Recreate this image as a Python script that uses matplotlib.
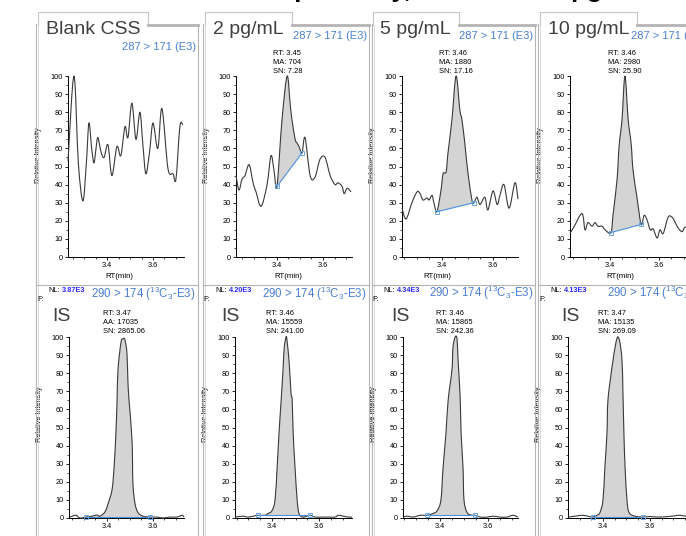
import numpy as np
import matplotlib
matplotlib.use('Agg')
import matplotlib.pyplot as plt
from matplotlib.lines import Line2D
from matplotlib.path import Path
from matplotlib.patches import PathPatch
from matplotlib.ticker import MultipleLocator, FixedLocator

plt.rcParams['font.family'] = ['Liberation Sans', 'DejaVu Sans']
plt.rcParams['mathtext.fontset'] = 'custom'
plt.rcParams['mathtext.rm'] = 'Liberation Sans'
plt.rcParams['mathtext.default'] = 'regular'

W, H = 686, 536

# ---- analyte channel 287 > 171 (E3), RT in min / relative intensity ----
blank_rt = [3.230, 3.256, 3.275, 3.295, 3.310, 3.321, 3.333, 3.343, 3.352, 3.360, 3.374, 3.387,
            3.404, 3.421, 3.443, 3.460, 3.478, 3.491, 3.508, 3.526, 3.543, 3.556, 3.569, 3.585,
            3.600, 3.621, 3.639, 3.665, 3.687, 3.700, 3.717, 3.730]
blank_int = [53, 100, 52, 31, 52, 74, 60, 52, 60, 66, 58, 55,
             62, 45, 61, 56, 72, 66, 85, 65, 80, 62, 46, 58,
             74, 60, 82, 49, 46, 43, 72, 73]

p2_rt = [3.222, 3.235, 3.248, 3.261, 3.279, 3.296, 3.309, 3.331, 3.357, 3.374, 3.387, 3.400,
         3.422, 3.444, 3.457, 3.465, 3.479, 3.487, 3.496, 3.509, 3.522, 3.544, 3.565, 3.587,
         3.609, 3.631, 3.652, 3.665, 3.683, 3.692, 3.705, 3.722]
p2_int = [45, 37, 43, 45, 51, 41, 36, 28, 40, 56, 48, 39,
          76, 100, 85, 76, 65, 63, 61, 57.5, 66, 45, 44, 54,
          55, 45, 40, 41, 39, 35, 38, 36]

p5_rt = [3.243, 3.259, 3.282, 3.302, 3.314, 3.325, 3.341, 3.349, 3.361, 3.368, 3.380, 3.396,
         3.404, 3.416, 3.423, 3.439, 3.455, 3.470, 3.478, 3.490, 3.502, 3.518, 3.525, 3.537,
         3.549, 3.568, 3.580, 3.600, 3.616, 3.627, 3.643, 3.663, 3.686, 3.698]
p5_int = [27, 21, 30, 36, 35, 31.5, 32.6, 31.5, 34, 30, 25, 37,
          46, 47, 57, 76, 100, 81, 76, 62, 46, 31, 30, 33,
          29, 33, 26, 36.5, 29, 34, 40, 27, 41, 32]

p10_rt = [3.237, 3.253, 3.286, 3.298, 3.310, 3.327, 3.339, 3.351, 3.368, 3.380, 3.404, 3.413,
          3.429, 3.437, 3.449, 3.461, 3.474, 3.486, 3.494, 3.510, 3.527, 3.539, 3.551, 3.564,
          3.576, 3.592, 3.604, 3.617, 3.637, 3.653, 3.666, 3.678, 3.694, 3.706, 3.727]
p10_int = [13, 16.6, 24, 15, 19, 17, 19, 17, 17, 15, 13.5, 24,
           43, 61, 76, 100, 76, 63, 48, 33, 18, 23, 20.5, 15,
           15.5, 10.5, 15, 13, 22, 22, 19, 16, 14, 16.5, 15]

# ---- internal standard 290 > 174 (13C3-E3) ----
is1_rt = [3.239, 3.265, 3.283, 3.309, 3.335, 3.357, 3.370, 3.392, 3.405, 3.422, 3.431, 3.439,
          3.444, 3.448, 3.461, 3.470, 3.478, 3.487, 3.491, 3.496, 3.509, 3.513, 3.522, 3.535,
          3.557, 3.587, 3.618, 3.644, 3.674, 3.705, 3.726, 3.735]
is1_int = [0.5, 1.5, 0, 0.5, 1, 1.6, 1, 3.5, 8, 15.5, 28, 47,
           65, 82, 97, 99, 98.5, 91, 76, 65, 43, 19, 8, 3,
           1, 0.5, 0.5, 0, 0.5, 0.5, 1.5, 0.5]

is2_rt = [3.243, 3.277, 3.298, 3.320, 3.341, 3.371, 3.383, 3.400, 3.413, 3.422, 3.430, 3.439,
          3.447, 3.452, 3.460, 3.464, 3.473, 3.481, 3.486, 3.490, 3.498, 3.507, 3.515, 3.532,
          3.562, 3.583, 3.613, 3.639, 3.669, 3.681, 3.703, 3.724, 3.740]
is2_int = [0.5, 1, 0.5, 1, 1.5, 1.5, 2.5, 4, 10, 28, 47, 65,
           82, 94, 100, 98, 86, 69, 65, 47, 28, 10, 2.5, 0.5,
           1.5, 0.5, 0.5, 0.5, 0.5, 1.5, 1, 0.5, 0.5]

is3_rt = [3.246, 3.263, 3.288, 3.317, 3.346, 3.371, 3.388, 3.404, 3.413, 3.425, 3.434, 3.450,
          3.454, 3.463, 3.471, 3.475, 3.484, 3.488, 3.496, 3.500, 3.513, 3.533, 3.546, 3.567,
          3.596, 3.621, 3.650, 3.679, 3.704, 3.725]
is3_int = [0.5, 1, 0.5, 1.5, 1.5, 2.5, 4, 10, 28, 47, 65, 82,
           94, 100, 99, 88, 67, 47, 28, 10, 3, 1.5, 1.5, 0.5,
           0.5, 1, 0.5, 0.5, 1.5, 0.5]

is4_rt = [3.251, 3.281, 3.311, 3.336, 3.357, 3.374, 3.387, 3.400, 3.408, 3.417, 3.421, 3.438,
          3.451, 3.459, 3.464, 3.472, 3.481, 3.485, 3.489, 3.494, 3.502, 3.511, 3.536, 3.570,
          3.600, 3.642, 3.694, 3.728, 3.770]
is4_int = [0.5, 1, 1.5, 1, 0.5, 1.5, 3, 10, 28, 47, 65, 83,
           94, 99, 100, 97, 87, 69, 47, 28, 10, 3, 1, 0.5,
           0.8, 0.5, 1, 1.5, 0.5]

# integration baselines: (rt start, int start, rt end, int end)
top_base = [None, (3.400, 39, 3.509, 57.5), (3.380, 25, 3.525, 30), (3.404, 13.5, 3.527, 18)]
bot_base = [(3.309, 0.5, 3.587, 0.5), (3.341, 1.5, 3.562, 1.5),
            (3.346, 1.5, 3.546, 1.5), (3.357, 0.5, 3.570, 0.5)]

titles = ['Blank CSS', '2 pg/mL', '5 pg/mL', '10 pg/mL']
top_notes = [None, ['RT: 3.45', 'MA: 704', 'SN: 7.28'],
             ['RT: 3.46', 'MA: 1880', 'SN: 17.16'], ['RT: 3.46', 'MA: 2980', 'SN: 25.90']]
bot_notes = [['RT: 3.47', 'AA: 17035', 'SN: 2865.06'], ['RT: 3.46', 'MA: 15559', 'SN: 241.00'],
             ['RT: 3.46', 'MA: 15865', 'SN: 242.36'], ['RT: 3.47', 'MA: 15135', 'SN: 269.09']]
nl_values = ['3.87E3', '4.20E3', '4.34E3', '4.13E3']

top_series = [(blank_rt, blank_int), (p2_rt, p2_int), (p5_rt, p5_int), (p10_rt, p10_int)]
bot_series = [(is1_rt, is1_int), (is2_rt, is2_int), (is3_rt, is3_int), (is4_rt, is4_int)]

# layout in pixels
top_px = [(68, 184), (236, 352), (402, 518), (570, 700)]
top_xlim = [(3.230, 3.735), (3.222, 3.726), (3.243, 3.698), (3.237, 3.767)]
bot_px = [(69, 184), (235, 352), (403, 518), (568, 700)]
bot_xlim = [(3.235, 3.735), (3.243, 3.740), (3.246, 3.725), (3.251, 3.813)]
panels = [(36, 198, 148), (203, 369, 292), (372, 535, 459), (538, 692, 637)]

TRACE = '#3a3a3a'
FILL = '#d4d4d4'
BLUE = '#4a7fd4'
FRAME = '#b4b4b4'

fig = plt.figure(figsize=(W / 100, H / 100), dpi=100)
fig.patch.set_facecolor('white')


def fx(x):
    return x / W


def fy(y):
    return 1 - y / H


def ptext(x, y, s, **kw):
    kw.setdefault('va', 'baseline')
    return fig.text(fx(x), fy(y), s, **kw)


def fline(xs, ys, **kw):
    fig.add_artist(Line2D([fx(v) for v in xs], [fy(v) for v in ys],
                          transform=fig.transFigure, **kw))


def make_axes(px, y0, y100, xlim, lab_y):
    left, right = px
    ax = fig.add_axes([fx(left), fy(y0), (right - left) / W, (y0 - y100) / H])
    ax.set_xlim(*xlim)
    ax.set_ylim(0, 100)
    ax.patch.set_alpha(0)
    for side in ['top', 'right']:
        ax.spines[side].set_visible(False)
    for side in ['left', 'bottom']:
        ax.spines[side].set_linewidth(0.7)
    ax.yaxis.set_major_locator(MultipleLocator(10))
    ax.yaxis.set_minor_locator(MultipleLocator(5))
    ax.xaxis.set_major_locator(FixedLocator([3.4, 3.6]))
    ax.xaxis.set_minor_locator(MultipleLocator(0.05))
    ax.tick_params(which='major', labelsize=5.3, length=2.5, width=0.6, pad=1)
    ax.tick_params(which='minor', length=1.5, width=0.5)
    ax.set_ylabel('Relative Intensity', fontsize=5.3)
    ax.yaxis.set_label_coords(-26 / (right - left), (y0 - lab_y) / (y0 - y100))
    return ax


def smooth_segments(rt, inten):
    # Catmull-Rom through the read points, drawn as cubic Bezier pieces
    P = np.column_stack([rt, inten]).astype(float)
    ext = np.vstack([P[0], P, P[-1]])
    segs = []
    for i in range(len(P) - 1):
        p0, p1, p2, p3 = ext[i], ext[i + 1], ext[i + 2], ext[i + 3]
        segs.append((p1 + (p2 - p0) / 6, p2 - (p3 - p1) / 6, p2))
    return P, segs


def curve_verts(P, segs, i0, i1):
    verts = [P[i0]]
    codes = [Path.MOVETO]
    for k in range(i0, i1):
        verts.extend(segs[k])
        codes.extend([Path.CURVE4] * 3)
    return verts, codes


def draw_trace(ax, rt, inten, base):
    P, segs = smooth_segments(rt, inten)
    if base is not None:
        t1, i1, t2, i2 = base
        a = int(np.argmin(np.abs(P[:, 0] - t1)))
        b = int(np.argmin(np.abs(P[:, 0] - t2)))
        verts, codes = curve_verts(P, segs, a, b)
        verts = verts + [(t2, i2), (t1, i1), (t1, i1)]
        codes = codes + [Path.LINETO, Path.LINETO, Path.CLOSEPOLY]
        ax.add_patch(PathPatch(Path(verts, codes), facecolor=FILL, edgecolor='none', zorder=2))
    verts, codes = curve_verts(P, segs, 0, len(P) - 1)
    ax.add_patch(PathPatch(Path(verts, codes), facecolor='none', edgecolor=TRACE,
                           lw=0.8, zorder=3, clip_on=False))
    if base is not None:
        ax.plot([t1, t2], [i1, i2], color='#4a90d9', lw=0.8, zorder=4, clip_on=False,
                marker='s', ms=3.5, mfc='none', mec='#6aa5dd', mew=0.7)


# frames
for L, R, TR in panels:
    fline([L + 1.5, L + 1.5, TR, TR], [25, 12, 12, 25], color='#c8c8c8', lw=0.8)
    fline([TR, R], [24.5, 24.5], color=FRAME, lw=2.0)
    fline([L, L], [24, 540], color=FRAME, lw=0.8)
    fline([L + 2, L + 2], [25, 540], color='#d6d6d6', lw=0.6)
    fline([R, R], [25, 540], color=FRAME, lw=0.8)
    fline([L, R], [285, 285], color=FRAME, lw=0.8)

# header text, cut off by the image edge in the source
ptext(277, -3, 'Specificity, from 2 to 10 pg/mL', fontsize=18.5, fontweight='bold', color='black')

title_x = [46, 213, 380, 548]
note_top_x = [None, 273, 439, 608]
tr_top = [(196, 50, 'right'), (367, 39, 'right'), (533, 39, 'right'), (631, 39, 'left')]
xlab_top = [119, 288, 437, 620]

for i in range(4):
    ax = make_axes(top_px[i], 257, 76, top_xlim[i], 155)
    draw_trace(ax, *top_series[i], top_base[i])
    ptext(title_x[i], 34, titles[i], fontsize=14, color='#404040')
    x, y, ha = tr_top[i]
    ptext(x, y, '287 > 171 (E3)', fontsize=8, color=BLUE, ha=ha)
    if top_notes[i]:
        for k, s in enumerate(top_notes[i]):
            ptext(note_top_x[i], 55 + 9 * k, s, fontsize=5.4)
    ptext(xlab_top[i], 278, 'RT(min)', fontsize=5.6, ha='center')

nl_x = [48, 215, 383, 550]
f_x = [37, 203, 372, 539]
is_x = [52, 221, 391, 561]
note_bot_x = [103, 266, 436, 598]
tr_bot = [(195, 298, 'right'), (366, 298, 'right'), (533, 297, 'right'), (607, 297, 'left')]
xlab_bot = [127, 293, 464, 621]

for i in range(4):
    ax = make_axes(bot_px[i], 518, 337, bot_xlim[i], 414)
    draw_trace(ax, *bot_series[i], bot_base[i])
    ptext(nl_x[i], 292, 'NL:', fontsize=5.3)
    ptext(nl_x[i] + 14, 292, nl_values[i], fontsize=5.3, color='#2b2bff', fontweight='bold')
    ptext(f_x[i], 301, 'F:', fontsize=5.3)
    ptext(is_x[i], 321, 'IS', fontsize=14, color='#404040')
    x, y, ha = tr_bot[i]
    ptext(x, y, r'290 > 174 ($^{13}$C$_3$-E3)', fontsize=8.3, color=BLUE, ha=ha)
    for k, s in enumerate(bot_notes[i]):
        ptext(note_bot_x[i], 315 + 9 * k, s, fontsize=5.4)
    ptext(xlab_bot[i], 541, 'RT(min)', fontsize=5.6, ha='center')

fig.savefig('out.png', dpi=100)
